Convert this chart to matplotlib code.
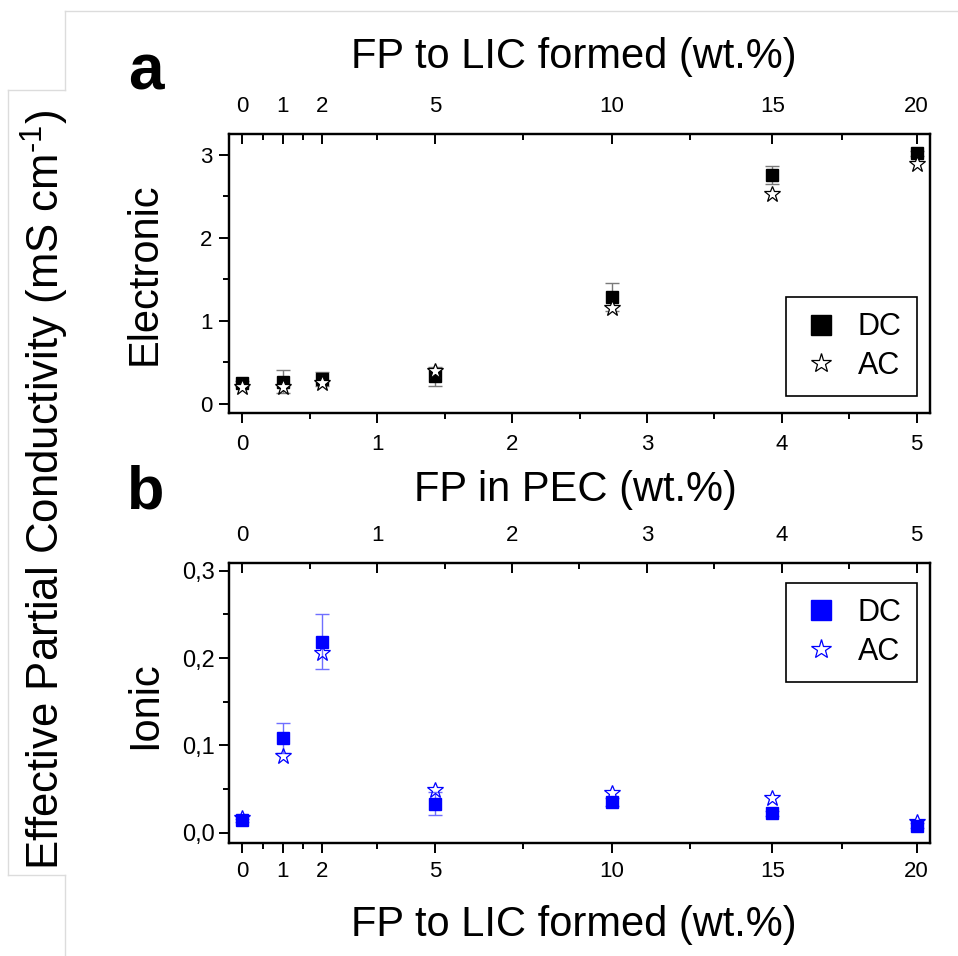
import matplotlib
matplotlib.use('Agg')
import matplotlib.pyplot as plt
from matplotlib.lines import Line2D

plt.rcParams['font.family'] = ['Liberation Sans', 'DejaVu Sans']
plt.rcParams['mathtext.fontset'] = 'custom'
plt.rcParams['mathtext.rm'] = 'Liberation Sans'

# x positions of the samples on the "FP in PEC" scale, labelled by "FP to LIC formed"
pec_pos = [0, 0.30, 0.59, 1.43, 2.74, 3.93, 5.0]
lic_labels = ['0', '1', '2', '5', '10', '15', '20']
lic_minor = [0.15, 0.45, 1.0, 2.08, 3.32, 4.45]
pec_major = [0, 1, 2, 3, 4, 5]
pec_minor = [0.5, 1.5, 2.5, 3.5, 4.5]

# electronic conductivity (mS/cm)
elec_dc = [0.25, 0.265, 0.30, 0.33, 1.29, 2.76, 3.02]
elec_dc_err = [0.03, 0.14, 0.08, 0.12, 0.17, 0.11, 0.03]
elec_ac = [0.205, 0.20, 0.25, 0.39, 1.16, 2.53, 2.89]

# ionic conductivity (mS/cm)
ion_dc = [0.014, 0.108, 0.219, 0.033, 0.035, 0.022, 0.008]
ion_dc_err = [0.002, 0.017, 0.032, 0.013, 0.005, 0.003, 0.003]
ion_ac = [0.017, 0.088, 0.206, 0.049, 0.045, 0.040, 0.012]

fig = plt.figure(figsize=(9.58, 9.56), dpi=100)

# faint frame lines of the original composite
frame = '#dcdcdc'
for xs, ys in [([65, 958], [11, 11]), ([65, 65], [11, 90]), ([8, 65], [90, 90]),
               ([8, 8], [90, 875]), ([8, 65], [875, 875]), ([65, 65], [875, 956])]:
    fig.add_artist(Line2D([x / 958 for x in xs], [1 - y / 956 for y in ys],
                          color=frame, lw=1))

ax1 = fig.add_axes([229 / 958, 1 - 413 / 956, 701 / 958, 279 / 956])
ax2 = fig.add_axes([229 / 958, 1 - 843 / 956, 701 / 958, 280 / 956])
xlim = (-0.1, 5.1)


def style(ax):
    for s in ax.spines.values():
        s.set_linewidth(1.6)
    ax.tick_params(axis='y', which='both', direction='out', right=False, width=1.4)
    ax.tick_params(axis='y', which='major', length=7, labelsize=16)
    ax.tick_params(axis='y', which='minor', length=4)
    ax.tick_params(axis='x', which='both', direction='out', top=False, width=1.4)
    ax.tick_params(axis='x', which='major', length=7, labelsize=16, pad=8)
    ax.tick_params(axis='x', which='minor', length=4)


def style_top(tw):
    for s in tw.spines.values():
        s.set_linewidth(1.6)
    tw.tick_params(axis='x', which='both', direction='in', width=1.4)
    tw.tick_params(axis='x', which='major', length=7, labelsize=16, pad=12)
    tw.tick_params(axis='x', which='minor', length=4)


def legend(ax, color, face, anchor):
    leg = ax.legend([Line2D([], [], marker='s', color=color, ms=15, ls='none'),
                     Line2D([], [], marker='*', mfc=face, mec=color, mew=0.9,
                            ms=15, ls='none')],
                    ['DC', 'AC'], loc='upper right', bbox_to_anchor=anchor,
                    fontsize=22, frameon=True, fancybox=False, edgecolor='black',
                    framealpha=1, handlelength=1.3, handletextpad=0.55,
                    labelspacing=0.28, borderpad=0.5, borderaxespad=0)
    leg.get_frame().set_linewidth(1.2)


# ---- panel a ----
ax1.errorbar(pec_pos, elec_dc, yerr=elec_dc_err, fmt='none', ecolor='#7a7a7a',
             elinewidth=1, capsize=5, capthick=1, zorder=2)
ax1.plot(pec_pos, elec_dc, 's', color='black', ms=8.5, ls='none', zorder=3)
ax1.plot(pec_pos, elec_ac, '*', mfc='white', mec='black', mew=0.9, ms=12,
         ls='none', zorder=4)
ax1.set_xlim(xlim)
ax1.set_ylim(-0.11, 3.25)
ax1.set_xticks(pec_major)
ax1.set_xticks(pec_minor, minor=True)
ax1.set_yticks([0, 1, 2, 3])
ax1.set_yticks([0.5, 1.5, 2.5], minor=True)
style(ax1)
ax1.tick_params(axis='y', pad=5)
t1 = ax1.twiny()
t1.set_xlim(xlim)
t1.set_xticks(pec_pos)
t1.set_xticklabels(lic_labels)
t1.set_xticks(lic_minor, minor=True)
style_top(t1)
legend(ax1, 'black', 'white', (0.981, 0.416))

# ---- panel b ----
blue = '#0000ff'
ax2.errorbar(pec_pos, ion_dc, yerr=ion_dc_err, fmt='none', ecolor='#6f6fff',
             elinewidth=1, capsize=5, capthick=1, zorder=2)
ax2.plot(pec_pos, ion_dc, 's', color=blue, ms=8.5, ls='none', zorder=3)
ax2.plot(pec_pos, ion_ac, '*', mfc='none', mec=blue, mew=0.9, ms=12,
         ls='none', zorder=4)
ax2.set_xlim(xlim)
ax2.set_ylim(-0.012, 0.309)
ax2.set_xticks(pec_pos)
ax2.set_xticklabels(lic_labels)
ax2.set_xticks(lic_minor, minor=True)
ax2.set_yticks([0, 0.1, 0.2, 0.3])
ax2.set_yticklabels(['0,0', '0,1', '0,2', '0,3'])
ax2.set_yticks([0.05, 0.15, 0.25], minor=True)
style(ax2)
ax2.tick_params(axis='y', pad=3, labelsize=17)
ax2.tick_params(axis='x', pad=6)
t2 = ax2.twiny()
t2.set_xlim(xlim)
t2.set_xticks(pec_major)
t2.set_xticks(pec_minor, minor=True)
style_top(t2)
legend(ax2, blue, 'white', (0.981, 0.929))

# ---- labels ----
fig.text(574 / 958, 1 - 57 / 956, 'FP to LIC formed (wt.%)', fontsize=30,
         ha='center', va='center')
fig.text(575 / 958, 1 - 490 / 956, 'FP in PEC (wt.%)', fontsize=30,
         ha='center', va='center')
fig.text(574 / 958, 1 - 925 / 956, 'FP to LIC formed (wt.%)', fontsize=30,
         ha='center', va='center')
fig.text(145 / 958, 1 - 274 / 956, 'Electronic', fontsize=30, rotation=90,
         ha='center', va='center')
fig.text(145 / 958, 1 - 705 / 956, 'Ionic', fontsize=30, rotation=90,
         ha='center', va='center')
fig.text(45 / 958, 1 - 490 / 956,
         'Effective Partial Conductivity (mS cm$^{\\text{-1}}$)',
         fontsize=31.5, rotation=90, ha='center', va='center')
fig.text(146 / 958, 1 - 72 / 956, 'a', fontsize=46, fontweight='bold',
         ha='center', va='center')
fig.text(146 / 958, 1 - 493 / 956, 'b', fontsize=44, fontweight='bold',
         ha='center', va='center')

fig.savefig('out.png', dpi=100)
